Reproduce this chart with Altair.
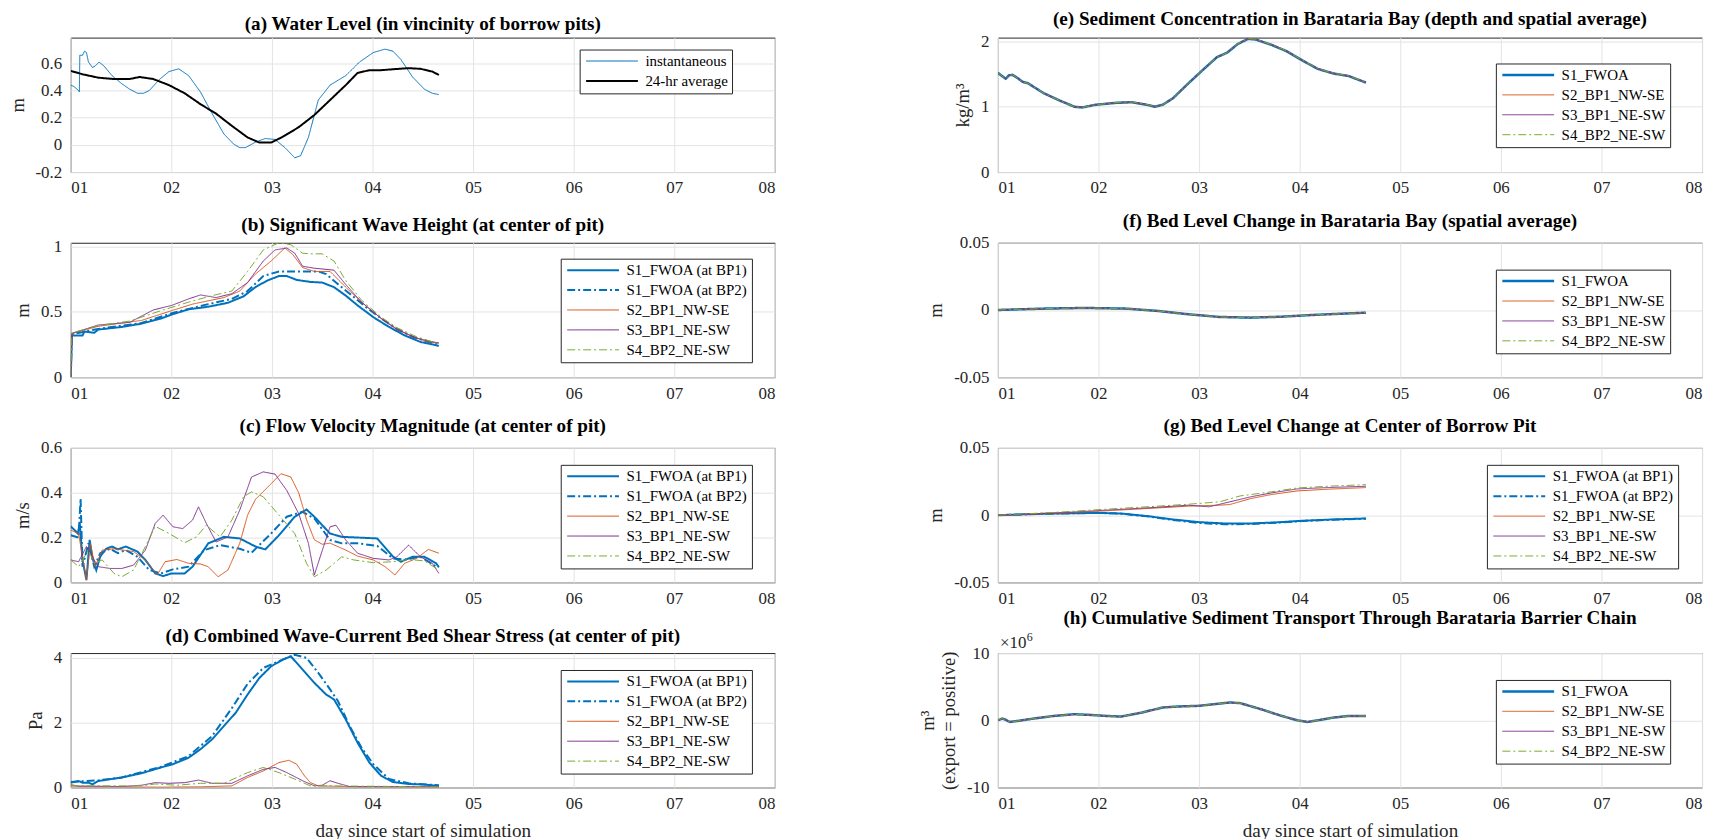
import altair as alt
import pandas as pd

FONT = "Liberation Serif"
DAY_TICKS = [1, 2, 3, 4, 5, 6, 7, 8]
BLUE, ORANGE, PURPLE, GREEN = "#0072BD", "#D95319", "#7E2F8E", "#77AC30"
SOLID, DASHDOT = [1, 0], [8, 3, 2, 3]

# ---------------- (a) Water level ----------------
A_INST_DAY = [1.000, 1.031, 1.078, 1.086, 1.090, 1.117, 1.137, 1.156, 1.176, 1.215, 1.242, 1.281, 1.332, 1.410,
              1.508, 1.586, 1.664, 1.723, 1.781, 1.879, 1.977, 2.074, 2.172, 2.289, 2.406, 2.523, 2.621, 2.680,
              2.738, 2.836, 2.934, 3.031, 3.129, 3.227, 3.285, 3.363, 3.461, 3.578, 3.734, 3.871, 4.008, 4.125,
              4.203, 4.281, 4.398, 4.516, 4.594, 4.660]
A_INST = [0.44, 0.43, 0.40, 0.39, 0.66, 0.66, 0.69, 0.68, 0.61, 0.57, 0.58, 0.61, 0.58, 0.51, 0.45, 0.41, 0.38,
          0.38, 0.40, 0.48, 0.54, 0.56, 0.51, 0.39, 0.23, 0.08, 0.005, -0.02, -0.02, 0.02, 0.047, 0.04, -0.02,
          -0.095, -0.08, 0.055, 0.33, 0.44, 0.51, 0.61, 0.68, 0.705, 0.69, 0.63, 0.50, 0.41, 0.38, 0.37]
A_AVG_DAY = [1.000, 1.117, 1.273, 1.430, 1.586, 1.684, 1.820, 1.977, 2.133, 2.289, 2.445, 2.602, 2.758, 2.875,
             2.992, 3.109, 3.266, 3.422, 3.578, 3.734, 3.852, 3.969, 4.086, 4.203, 4.359, 4.477, 4.594, 4.660]
A_AVG = [0.545, 0.52, 0.495, 0.485, 0.485, 0.50, 0.485, 0.44, 0.38, 0.30, 0.23, 0.14, 0.055, 0.017, 0.017, 0.06,
         0.13, 0.22, 0.33, 0.44, 0.53, 0.55, 0.55, 0.557, 0.565, 0.56, 0.54, 0.515]

# ---------------- (b) Significant wave height ----------------
B_S1_DAY = [1.000, 1.012, 1.117, 1.137, 1.234, 1.273, 1.508, 1.703, 1.898, 2.004, 2.172, 2.367, 2.563, 2.719,
            2.836, 2.953, 3.070, 3.148, 3.246, 3.383, 3.500, 3.617, 3.734, 3.852, 4.008, 4.164, 4.320, 4.477,
            4.633, 4.660]
B_S1 = [0, 0.32, 0.32, 0.35, 0.34, 0.365, 0.385, 0.41, 0.45, 0.48, 0.52, 0.54, 0.57, 0.62, 0.69, 0.74, 0.775,
        0.775, 0.745, 0.73, 0.725, 0.69, 0.625, 0.55, 0.46, 0.385, 0.32, 0.27, 0.245, 0.24]
B_S1B_DAY = [1.000, 1.012, 1.273, 1.703, 2.004, 2.367, 2.602, 2.758, 2.914, 3.070, 3.188, 3.344, 3.461, 3.539,
             3.637, 3.773, 3.930, 4.086, 4.242, 4.398, 4.555, 4.660]
B_S1B = [0, 0.33, 0.37, 0.415, 0.49, 0.56, 0.60, 0.66, 0.775, 0.81, 0.81, 0.81, 0.81, 0.79, 0.725, 0.64, 0.54,
         0.45, 0.37, 0.31, 0.27, 0.255]
B_S2_DAY = [1.000, 1.012, 1.273, 1.703, 2.004, 2.211, 2.523, 2.680, 2.836, 2.992, 3.129, 3.207, 3.305, 3.422,
            3.578, 3.656, 3.773, 3.930, 4.086, 4.242, 4.398, 4.555, 4.660]
B_S2 = [0, 0.335, 0.39, 0.435, 0.51, 0.56, 0.61, 0.66, 0.79, 0.89, 0.99, 0.94, 0.84, 0.81, 0.81, 0.75, 0.66,
        0.55, 0.45, 0.37, 0.31, 0.27, 0.265]
B_S3_DAY = [1.000, 1.012, 1.273, 1.586, 1.820, 2.004, 2.172, 2.289, 2.445, 2.602, 2.758, 2.914, 3.031, 3.148,
            3.227, 3.305, 3.422, 3.617, 3.734, 3.891, 4.086, 4.242, 4.438, 4.660]
B_S3 = [0, 0.335, 0.40, 0.42, 0.515, 0.55, 0.60, 0.63, 0.61, 0.64, 0.725, 0.89, 0.975, 0.99, 0.95, 0.85, 0.835,
        0.82, 0.71, 0.575, 0.45, 0.365, 0.30, 0.26]
B_S4_DAY = [1.000, 1.012, 1.273, 1.586, 1.898, 2.172, 2.406, 2.602, 2.758, 2.914, 3.070, 3.188, 3.305, 3.383,
            3.500, 3.617, 3.734, 3.891, 4.086, 4.242, 4.438, 4.660]
B_S4 = [0, 0.34, 0.395, 0.43, 0.51, 0.575, 0.625, 0.66, 0.81, 0.975, 1.03, 1.015, 0.95, 0.945, 0.945, 0.89, 0.74,
        0.59, 0.46, 0.38, 0.31, 0.255]

# ---------------- (c) Flow velocity ----------------
C_S1_DAY = [1.000, 1.039, 1.070, 1.090, 1.117, 1.156, 1.188, 1.215, 1.254, 1.293, 1.352, 1.410, 1.469, 1.547,
            1.664, 1.742, 1.840, 1.918, 2.004, 2.133, 2.211, 2.367, 2.523, 2.680, 2.836, 2.934, 3.070, 3.227,
            3.344, 3.422, 3.578, 3.695, 3.852, 4.047, 4.203, 4.281, 4.398, 4.516, 4.633, 4.660]
C_S1 = [0.25, 0.233, 0.218, 0.263, 0.10, 0.01, 0.19, 0.11, 0.055, 0.115, 0.15, 0.16, 0.147, 0.16, 0.137, 0.10,
        0.04, 0.028, 0.04, 0.04, 0.07, 0.174, 0.203, 0.196, 0.16, 0.147, 0.21, 0.293, 0.325, 0.293, 0.218, 0.203,
        0.20, 0.196, 0.115, 0.092, 0.114, 0.114, 0.085, 0.067]
C_S1B_DAY = [1.000, 1.078, 1.098, 1.117, 1.176, 1.234, 1.293, 1.391, 1.469, 1.547, 1.664, 1.781, 1.898, 2.016,
             2.172, 2.328, 2.484, 2.680, 2.797, 2.992, 3.148, 3.305, 3.422, 3.578, 3.695, 3.852, 4.047, 4.203,
             4.320, 4.477, 4.633]
C_S1B = [0.21, 0.20, 0.374, 0.07, 0.174, 0.07, 0.13, 0.15, 0.13, 0.144, 0.114, 0.055, 0.04, 0.058, 0.07, 0.144,
         0.166, 0.15, 0.132, 0.218, 0.293, 0.315, 0.285, 0.189, 0.174, 0.174, 0.163, 0.107, 0.102, 0.114, 0.07]
C_S2_DAY = [1.000, 1.078, 1.117, 1.156, 1.195, 1.242, 1.313, 1.430, 1.625, 1.742, 1.859, 1.938, 2.055, 2.172,
            2.289, 2.367, 2.465, 2.563, 2.680, 2.758, 2.836, 2.992, 3.090, 3.188, 3.266, 3.344, 3.422, 3.500,
            3.578, 3.734, 3.852, 4.008, 4.125, 4.223, 4.320, 4.438, 4.555, 4.660]
C_S2 = [0.233, 0.218, 0.114, 0.01, 0.174, 0.07, 0.144, 0.15, 0.137, 0.10, 0.033, 0.092, 0.102, 0.085, 0.082, 0.07,
        0.025, 0.055, 0.174, 0.30, 0.37, 0.44, 0.485, 0.47, 0.40, 0.28, 0.19, 0.17, 0.175, 0.144, 0.117, 0.10,
        0.07, 0.033, 0.085, 0.107, 0.147, 0.13]
C_S3_DAY = [1.000, 1.078, 1.156, 1.215, 1.273, 1.391, 1.508, 1.625, 1.742, 1.840, 1.918, 2.016, 2.113, 2.211,
            2.270, 2.348, 2.445, 2.563, 2.680, 2.797, 2.914, 3.031, 3.148, 3.266, 3.363, 3.422, 3.480, 3.578,
            3.637, 3.734, 3.852, 4.008, 4.164, 4.242, 4.359, 4.477, 4.594, 4.660]
C_S3 = [0.10, 0.092, 0.16, 0.114, 0.07, 0.062, 0.062, 0.077, 0.144, 0.263, 0.30, 0.248, 0.24, 0.278, 0.337, 0.263,
        0.18, 0.203, 0.322, 0.47, 0.493, 0.483, 0.41, 0.307, 0.174, 0.033, 0.114, 0.248, 0.255, 0.189, 0.13,
        0.107, 0.10, 0.114, 0.166, 0.114, 0.085, 0.04]
C_S4_DAY = [1.000, 1.078, 1.176, 1.234, 1.313, 1.430, 1.508, 1.625, 1.742, 1.840, 1.977, 2.133, 2.250, 2.348,
            2.484, 2.602, 2.719, 2.797, 2.914, 3.070, 3.227, 3.344, 3.422, 3.539, 3.695, 3.813, 4.008, 4.203,
            4.359, 4.516, 4.660]
C_S4 = [0.10, 0.07, 0.144, 0.085, 0.10, 0.04, 0.025, 0.055, 0.16, 0.25, 0.218, 0.177, 0.203, 0.255, 0.203, 0.278,
        0.382, 0.404, 0.382, 0.30, 0.218, 0.085, 0.025, 0.055, 0.114, 0.10, 0.088, 0.092, 0.102, 0.096, 0.055]

# ---------------- (d) Bed shear stress ----------------
D_S1_DAY = [1.000, 1.078, 1.117, 1.176, 1.215, 1.273, 1.508, 1.703, 1.898, 2.016, 2.172, 2.289, 2.406, 2.523,
            2.641, 2.758, 2.875, 2.992, 3.109, 3.188, 3.305, 3.422, 3.539, 3.617, 3.734, 3.852, 3.969, 4.086,
            4.203, 4.359, 4.516, 4.660]
D_S1 = [0.15, 0.2, 0.15, 0.15, 0.10, 0.2, 0.31, 0.44, 0.62, 0.72, 0.92, 1.18, 1.49, 1.90, 2.31, 2.87, 3.38, 3.74,
        3.95, 4.05, 3.64, 3.23, 2.87, 2.72, 2.10, 1.38, 0.77, 0.36, 0.17, 0.11, 0.09, 0.05]
D_S1B_DAY = [1.000, 1.273, 1.508, 1.898, 2.172, 2.406, 2.602, 2.758, 2.914, 3.070, 3.227, 3.344, 3.461, 3.578,
             3.656, 3.773, 3.891, 4.008, 4.164, 4.359, 4.660]
D_S1B = [0.17, 0.22, 0.31, 0.64, 0.97, 1.59, 2.45, 3.2, 3.69, 3.90, 4.10, 4.0, 3.54, 3.03, 2.67, 1.90, 1.23, 0.72,
         0.26, 0.13, 0.07]
D_S2_DAY = [1.000, 1.078, 1.313, 1.898, 2.289, 2.602, 2.758, 2.914, 3.070, 3.168, 3.246, 3.324, 3.383, 3.461,
            3.852, 4.660]
D_S2 = [0.10, 0.03, 0.02, 0.01, 0.02, 0.05, 0.31, 0.51, 0.77, 0.84, 0.72, 0.36, 0.15, 0.05, 0.02, 0.02]
D_S3_DAY = [1.000, 1.508, 1.703, 1.840, 1.977, 2.133, 2.270, 2.406, 2.602, 2.758, 2.914, 3.031, 3.148, 3.305,
            3.422, 3.500, 3.578, 3.656, 3.773, 4.660]
D_S3 = [0.05, 0.03, 0.07, 0.15, 0.13, 0.15, 0.23, 0.13, 0.13, 0.36, 0.56, 0.62, 0.46, 0.21, 0.05, 0.07, 0.21,
        0.13, 0.03, 0.02]
D_S4_DAY = [1.000, 1.703, 1.840, 2.055, 2.289, 2.523, 2.758, 2.914, 3.070, 3.227, 3.383, 3.578, 4.660]
D_S4 = [0.05, 0.05, 0.11, 0.07, 0.13, 0.13, 0.46, 0.62, 0.46, 0.26, 0.05, 0.05, 0.02]

# ---------------- (e) Sediment concentration ----------------
E_DAY = [1.000, 1.041, 1.077, 1.108, 1.144, 1.196, 1.247, 1.299, 1.453, 1.607, 1.762, 1.839, 1.968, 2.173, 2.328,
         2.482, 2.559, 2.637, 2.740, 2.894, 3.048, 3.177, 3.280, 3.383, 3.486, 3.563, 3.717, 3.872, 4.026, 4.181,
         4.335, 4.489, 4.659]
E_S1 = [1.52, 1.47, 1.43, 1.48, 1.49, 1.44, 1.38, 1.36, 1.21, 1.10, 1.00, 0.99, 1.03, 1.06, 1.07, 1.03, 1.00, 1.03,
        1.13, 1.36, 1.58, 1.76, 1.83, 1.96, 2.04, 2.03, 1.95, 1.85, 1.71, 1.58, 1.51, 1.47, 1.37]
E_S2 = [1.52, 1.47, 1.43, 1.48, 1.49, 1.44, 1.38, 1.36, 1.21, 1.10, 1.00, 0.99, 1.03, 1.06, 1.07, 1.03, 1.00, 1.03,
        1.13, 1.36, 1.58, 1.76, 1.83, 1.96, 2.04, 2.03, 1.95, 1.85, 1.71, 1.58, 1.51, 1.47, 1.37]
E_S3 = [1.52, 1.47, 1.43, 1.48, 1.49, 1.44, 1.38, 1.36, 1.21, 1.10, 1.00, 0.99, 1.03, 1.065, 1.075, 1.035, 1.00,
        1.03, 1.13, 1.36, 1.58, 1.76, 1.83, 1.965, 2.045, 2.035, 1.955, 1.855, 1.715, 1.585, 1.515, 1.475, 1.375]
E_S4 = [1.52, 1.47, 1.43, 1.48, 1.49, 1.44, 1.38, 1.36, 1.21, 1.10, 1.00, 0.99, 1.03, 1.065, 1.075, 1.035, 1.00,
        1.03, 1.13, 1.36, 1.58, 1.76, 1.83, 1.965, 2.045, 2.035, 1.955, 1.855, 1.715, 1.585, 1.515, 1.475, 1.375]

# ---------------- (f) Bed level change in bay ----------------
F_DAY = [1.000, 1.453, 1.865, 2.276, 2.585, 2.894, 3.203, 3.512, 3.820, 4.129, 4.438, 4.659]
F_S1 = [0, 0.001, 0.0015, 0.001, -0.0007, -0.0032, -0.0052, -0.0057, -0.005, -0.0037, -0.0027, -0.002]
F_S2 = [0, 0.001, 0.0015, 0.001, -0.0007, -0.0032, -0.0052, -0.0057, -0.005, -0.0037, -0.0027, -0.002]
F_S3 = [0, 0.001, 0.0015, 0.001, -0.0007, -0.0032, -0.0052, -0.0057, -0.005, -0.0037, -0.0027, -0.002]
F_S4 = [0, 0.001, 0.0015, 0.001, -0.0007, -0.0032, -0.0052, -0.0057, -0.005, -0.0037, -0.0027, -0.002]

# ---------------- (g) Bed level change at pit centre ----------------
G_S1_DAY = [1.000, 1.299, 1.556, 1.993, 2.225, 2.482, 2.740, 2.997, 3.254, 3.512, 3.769, 4.026, 4.335, 4.659]
G_S1 = [0, 0.0007, 0.0012, 0.0017, 0.0012, -0.0007, -0.0032, -0.0052, -0.0062, -0.0062, -0.0054, -0.0042,
        -0.0032, -0.0025]
G_S1B = [0, 0.0006, 0.0011, 0.0016, 0.0011, -0.0009, -0.0036, -0.0058, -0.0068, -0.0066, -0.0056, -0.0044,
         -0.0034, -0.0027]
G_S2_DAY = [1.000, 1.556, 2.071, 2.482, 2.894, 3.203, 3.306, 3.512, 3.717, 3.975, 4.284, 4.659]
G_S2 = [0, 0.0012, 0.0032, 0.0049, 0.0067, 0.0074, 0.0079, 0.0123, 0.0153, 0.018, 0.0193, 0.0205]
G_S3_DAY = [1.000, 1.556, 2.071, 2.482, 2.894, 3.100, 3.306, 3.512, 3.717, 3.975, 4.284, 4.659]
G_S3 = [0, 0.0015, 0.0037, 0.0054, 0.0074, 0.0062, 0.0099, 0.0136, 0.0165, 0.0195, 0.0205, 0.0215]
G_S4_DAY = [1.000, 1.556, 2.071, 2.482, 2.894, 3.203, 3.409, 3.717, 3.975, 4.284, 4.659]
G_S4 = [0, 0.002, 0.0044, 0.0062, 0.0081, 0.0099, 0.0143, 0.0173, 0.0202, 0.0215, 0.0227]

# ---------------- (h) Cumulative sediment transport (x 1e6 m3) ----------------
H_DAY = [1.000, 1.041, 1.067, 1.118, 1.196, 1.350, 1.556, 1.762, 1.916, 2.071, 2.225, 2.431, 2.637, 2.791, 2.997,
         3.151, 3.306, 3.409, 3.615, 3.820, 3.975, 4.078, 4.181, 4.335, 4.489, 4.659]
H_S1 = [0, 0.25, 0.15, -0.25, -0.1, 0.25, 0.65, 0.9, 0.8, 0.65, 0.55, 1.15, 1.9, 2.05, 2.15, 2.4, 2.65, 2.55, 1.65,
        0.65, 0, -0.25, 0, 0.4, 0.65, 0.65]
H_S2 = [0, 0.25, 0.15, -0.25, -0.1, 0.25, 0.65, 0.9, 0.8, 0.65, 0.55, 1.15, 1.9, 2.05, 2.15, 2.4, 2.65, 2.55, 1.65,
        0.65, 0, -0.25, 0, 0.4, 0.65, 0.65]
H_S3 = [0, 0.25, 0.15, -0.25, -0.1, 0.25, 0.65, 0.9, 0.8, 0.65, 0.55, 1.15, 1.9, 2.05, 2.15, 2.4, 2.65, 2.55, 1.65,
        0.65, 0, -0.25, 0, 0.4, 0.65, 0.65]
H_S4 = [0, 0.25, 0.15, -0.25, -0.1, 0.25, 0.65, 0.9, 0.8, 0.65, 0.55, 1.15, 1.9, 2.05, 2.15, 2.4, 2.65, 2.55, 1.65,
        0.65, 0, -0.25, 0, 0.4, 0.65, 0.65]

S5 = ["S1_FWOA (at BP1)", "S1_FWOA (at BP2)", "S2_BP1_NW-SE", "S3_BP1_NE-SW", "S4_BP2_NE-SW"]
S4N = ["S1_FWOA", "S2_BP1_NW-SE", "S3_BP1_NE-SW", "S4_BP2_NE-SW"]
C5, D5, W5 = [BLUE, BLUE, ORANGE, PURPLE, GREEN], [SOLID, DASHDOT, SOLID, SOLID, DASHDOT], [2, 2, 1, 1, 1]
C4, D4, W4 = [BLUE, ORANGE, PURPLE, GREEN], [SOLID, SOLID, SOLID, DASHDOT], [2.5, 1, 1, 1]


def frame(name, days, vals):
    return pd.DataFrame({"day": days, "value": vals, "series": name})


def panel(frames, order, colors, dashes, widths, title, ytitle, ydom, yticks, lx, ly,
          xtitle=None, extra=()):
    df = pd.concat(frames, ignore_index=True)
    leg = alt.Legend(orient="none", legendX=lx, legendY=ly, title=None, direction="vertical",
                     fillColor="white", strokeColor="#262626", padding=4, symbolType="M-1,0H9.4",
                     symbolSize=100, labelFont=FONT, labelFontSize=15, labelColor="black",
                     rowPadding=4, labelOffset=47)
    base = alt.Chart(df).mark_line(clip=True).encode(
        x=alt.X("day:Q", scale=alt.Scale(domain=[1, 8], nice=False, zero=False),
                axis=alt.Axis(values=DAY_TICKS, labelExpr="'0' + datum.value", title=xtitle,
                              titlePadding=10, titleFontSize=19.2)),
        y=alt.Y("value:Q", scale=alt.Scale(domain=ydom, nice=False, zero=False),
                axis=alt.Axis(values=yticks, format="~r", labelPadding=9,
                              labelExpr="replace(datum.label, '\u2212', '-')", title=ytitle)),
        color=alt.Color("series:N", scale=alt.Scale(domain=order, range=colors), legend=leg),
        strokeDash=alt.StrokeDash("series:N", scale=alt.Scale(domain=order, range=dashes), legend=leg),
        strokeWidth=alt.StrokeWidth("series:N", scale=alt.Scale(type="ordinal", domain=order, range=widths),
                                    legend=leg),
    )
    layers = [base] + list(extra)
    return alt.layer(*layers).properties(
        width=707, height=135,
        title=alt.TitleParams(title, font=FONT, fontSize=19.2, fontWeight="bold", anchor="middle",
                              offset=3, color="black"))


pa = panel([frame("instantaneous", A_INST_DAY, A_INST), frame("24-hr average", A_AVG_DAY, A_AVG)],
           ["instantaneous", "24-hr average"], [BLUE, "black"], [SOLID, SOLID], [1, 2],
           "(a) Water Level (in vincinity of borrow pits)", "m", [-0.2, 0.79], [-0.2, 0, 0.2, 0.4, 0.6], 511, 12)
pb = panel([frame(S5[0], B_S1_DAY, B_S1), frame(S5[1], B_S1B_DAY, B_S1B), frame(S5[2], B_S2_DAY, B_S2),
            frame(S5[3], B_S3_DAY, B_S3), frame(S5[4], B_S4_DAY, B_S4)], S5, C5, D5, W5,
           "(b) Significant Wave Height (at center of pit)", "m", [0, 1.03], [0, 0.5, 1], 492, 16)
pc = panel([frame(S5[0], C_S1_DAY, C_S1), frame(S5[1], C_S1B_DAY, C_S1B), frame(S5[2], C_S2_DAY, C_S2),
            frame(S5[3], C_S3_DAY, C_S3), frame(S5[4], C_S4_DAY, C_S4)], S5, C5, D5, W5,
           "(c) Flow Velocity Magnitude (at center of pit)", "m/s", [0, 0.6], [0, 0.2, 0.4, 0.6], 492, 17)
pd_ = panel([frame(S5[0], D_S1_DAY, D_S1), frame(S5[1], D_S1B_DAY, D_S1B), frame(S5[2], D_S2_DAY, D_S2),
             frame(S5[3], D_S3_DAY, D_S3), frame(S5[4], D_S4_DAY, D_S4)], S5, C5, D5, W5,
            "(d) Combined Wave-Current Bed Shear Stress (at center of pit)", "Pa", [0, 4.15], [0, 2, 4], 492, 17,
            xtitle="day since start of simulation")

pe = panel([frame(S4N[0], E_DAY, E_S1), frame(S4N[1], E_DAY, E_S2), frame(S4N[2], E_DAY, E_S3),
            frame(S4N[3], E_DAY, E_S4)], S4N, C4, D4, W4,
           "(e) Sediment Concentration in Barataria Bay (depth and spatial average)", "kg/m\u00b3",
           [0, 2.06], [0, 1, 2], 500, 26)
pf = panel([frame(S4N[0], F_DAY, F_S1), frame(S4N[1], F_DAY, F_S2), frame(S4N[2], F_DAY, F_S3),
            frame(S4N[3], F_DAY, F_S4)], S4N, C4, D4, W4,
           "(f) Bed Level Change in Barataria Bay (spatial average)", "m", [-0.05, 0.05], [-0.05, 0, 0.05], 500, 27)
pg = panel([frame(S5[0], G_S1_DAY, G_S1), frame(S5[1], G_S1_DAY, G_S1B), frame(S5[2], G_S2_DAY, G_S2),
            frame(S5[3], G_S3_DAY, G_S3), frame(S5[4], G_S4_DAY, G_S4)], S5, C5, D5, W5,
           "(g) Bed Level Change at Center of Borrow Pit", "m", [-0.05, 0.05], [-0.05, 0, 0.05], 491, 17)

exp_text = pd.DataFrame({"t": ["\u00d710"]})
exp_sup = pd.DataFrame({"t": ["6"]})
t1 = alt.Chart(exp_text).mark_text(font=FONT, fontSize=17, align="left", baseline="alphabetic",
                                   color="#262626").encode(x=alt.value(2), y=alt.value(-5), text="t:N")
t2 = alt.Chart(exp_sup).mark_text(font=FONT, fontSize=12, align="left", baseline="alphabetic",
                                  color="#262626").encode(x=alt.value(29), y=alt.value(-12), text="t:N")
ph = panel([frame(S4N[0], H_DAY, H_S1), frame(S4N[1], H_DAY, H_S2), frame(S4N[2], H_DAY, H_S3),
            frame(S4N[3], H_DAY, H_S4)], S4N, C4, D4, W4,
           "(h) Cumulative Sediment Transport Through Barataria Barrier Chain",
           ["m\u00b3", "(export = positive)"], [-10, 10], [-10, 0, 10], 500, 27,
           xtitle="day since start of simulation", extra=(t1, t2))

chart = alt.concat(pa, pe, pb, pf, pc, pg, pd_, ph, columns=2,
                   spacing={"row": 71, "column": 224}, bounds="flush").resolve_scale(
    color="independent", strokeDash="independent", strokeWidth="independent"
).properties(
    padding={"left": -1, "top": 0, "right": 5, "bottom": 0}
).configure_view(stroke="#262626", strokeWidth=1).configure_axis(
    labelFont=FONT, labelFontSize=17, labelColor="#262626", titleFont=FONT, titleFontSize=18.7,
    titleFontWeight="normal", titleColor="#262626", gridColor="#e3e3e3", ticks=False, domain=False,
    labelPadding=8, titlePadding=8
)

chart.save("out.html", embed_options={"renderer": "svg", "actions": False})
